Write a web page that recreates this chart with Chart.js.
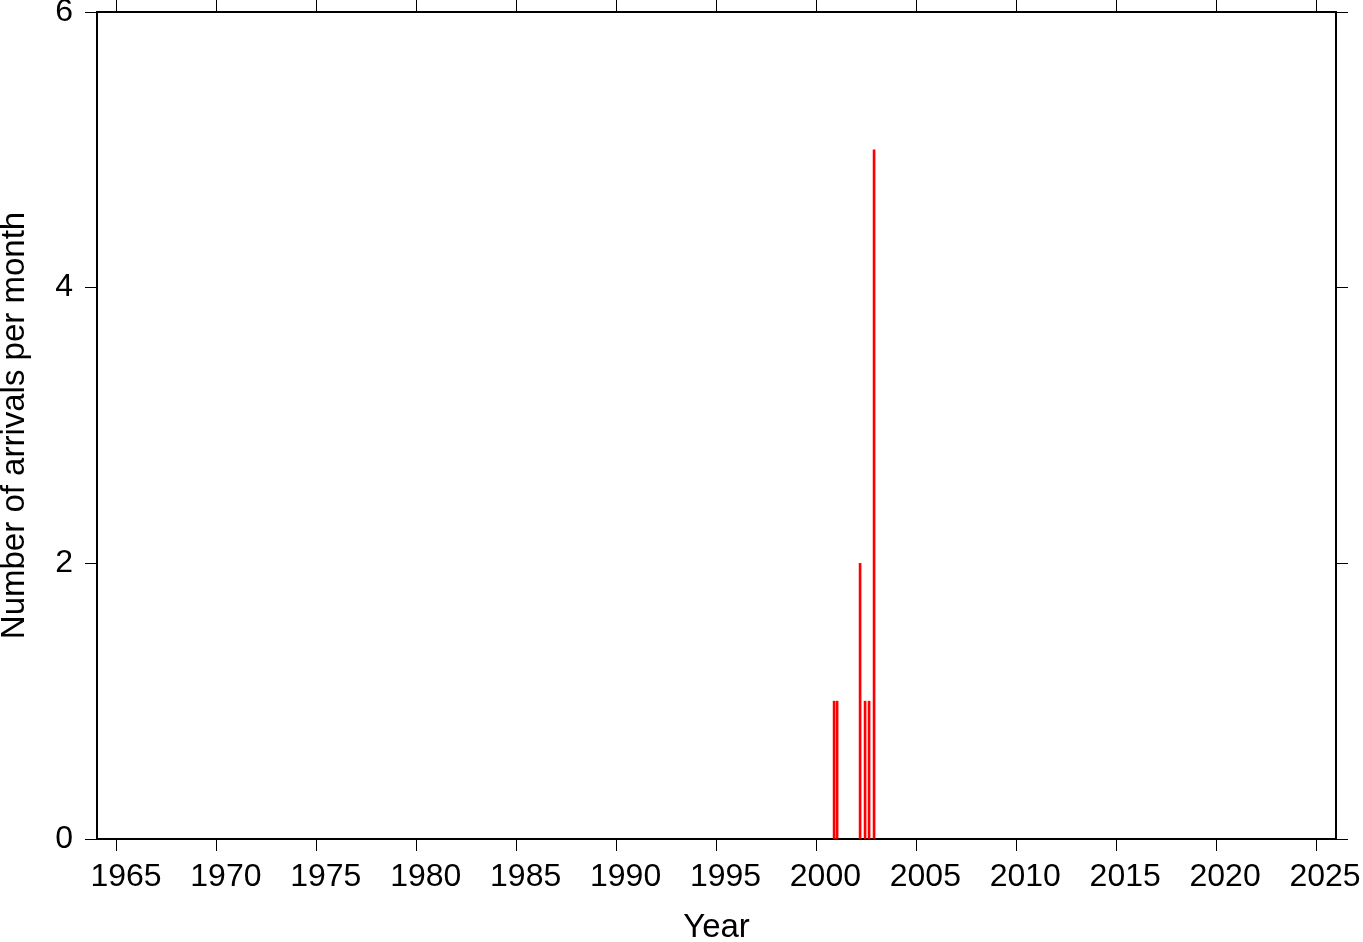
<!DOCTYPE html>
<html>
<head>
<meta charset="utf-8">
<script src="https://cdn.jsdelivr.net/npm/chart.js@4"></script>
<style>
  body { margin: 0; background: #fff; }
  canvas { display: block; }
</style>
</head>
<body>
<canvas id="chart" width="1363" height="942"></canvas>
<script>
// monthly arrival counts (decimal year of month centre)
const arrivalYears = [2000.885, 2001.035, 2002.185, 2002.435, 2002.635, 2002.885];
const arrivalCounts = [1, 1, 2, 1, 1, 5];

const yearMin = 1964;
const yearMax = 2026;
const countMin = 0;
const countMax = 6;

Chart.defaults.font.family = "'Liberation Sans', Helvetica, Arial, sans-serif";
Chart.defaults.color = '#000';

const points = arrivalYears.map((yr, i) => ({ x: yr, y: arrivalCounts[i] }));

const tickGrid = {
  drawOnChartArea: false,
  drawTicks: true,
  tickLength: 12,
  color: '#000',
  lineWidth: 1,
  offset: false
};
const frame = { display: true, color: '#000', width: 2 };

function fixSize(prop, size) {
  return scale => {
    scale[prop] = size;
    scale.paddingTop = 0;
    scale.paddingBottom = 0;
    scale.paddingLeft = 0;
    scale.paddingRight = 0;
  };
}

new Chart(document.getElementById('chart'), {
  type: 'bar',
  data: {
    datasets: [{
      label: 'Arrivals',
      data: points,
      backgroundColor: '#ff0000',
      borderWidth: 0,
      barThickness: 2,
      xAxisID: 'x',
      yAxisID: 'y'
    }]
  },
  options: {
    responsive: false,
    animation: false,
    devicePixelRatio: 1,
    layout: { padding: 0 },
    plugins: { legend: { display: false }, tooltip: { enabled: false } },
    scales: {
      x: {
        type: 'linear',
        position: 'bottom',
        min: yearMin,
        max: yearMax,
        offset: false,
        grid: tickGrid,
        border: frame,
        ticks: {
          stepSize: 5,
          includeBounds: false,
          maxRotation: 0,
          autoSkip: false,
          padding: 7,
          labelOffset: 9,
          font: { size: 32 },
          callback: v => String(v)
        },
        title: {
          display: true,
          text: 'Year',
          font: { size: 33, lineHeight: 1 },
          padding: { top: 0, bottom: -2 }
        },
        afterFit: fixSize('height', 103)
      },
      x2: {
        type: 'linear',
        position: 'top',
        min: yearMin,
        max: yearMax,
        offset: false,
        grid: tickGrid,
        border: frame,
        ticks: { stepSize: 5, includeBounds: false, display: false },
        afterFit: fixSize('height', 12)
      },
      y: {
        type: 'linear',
        position: 'left',
        min: countMin,
        max: countMax,
        grid: tickGrid,
        border: frame,
        ticks: {
          stepSize: 2,
          padding: 12,
          font: { size: 32 },
          callback: v => String(v)
        },
        title: {
          display: true,
          text: 'Number of arrivals per month',
          font: { size: 33, lineHeight: 1 },
          padding: { top: -2, bottom: 0 }
        },
        afterFit: fixSize('width', 97)
      },
      y2: {
        type: 'linear',
        position: 'right',
        min: countMin,
        max: countMax,
        grid: tickGrid,
        border: frame,
        ticks: { stepSize: 2, display: false },
        afterFit: fixSize('width', 27)
      }
    }
  }
});
</script>
</body>
</html>
